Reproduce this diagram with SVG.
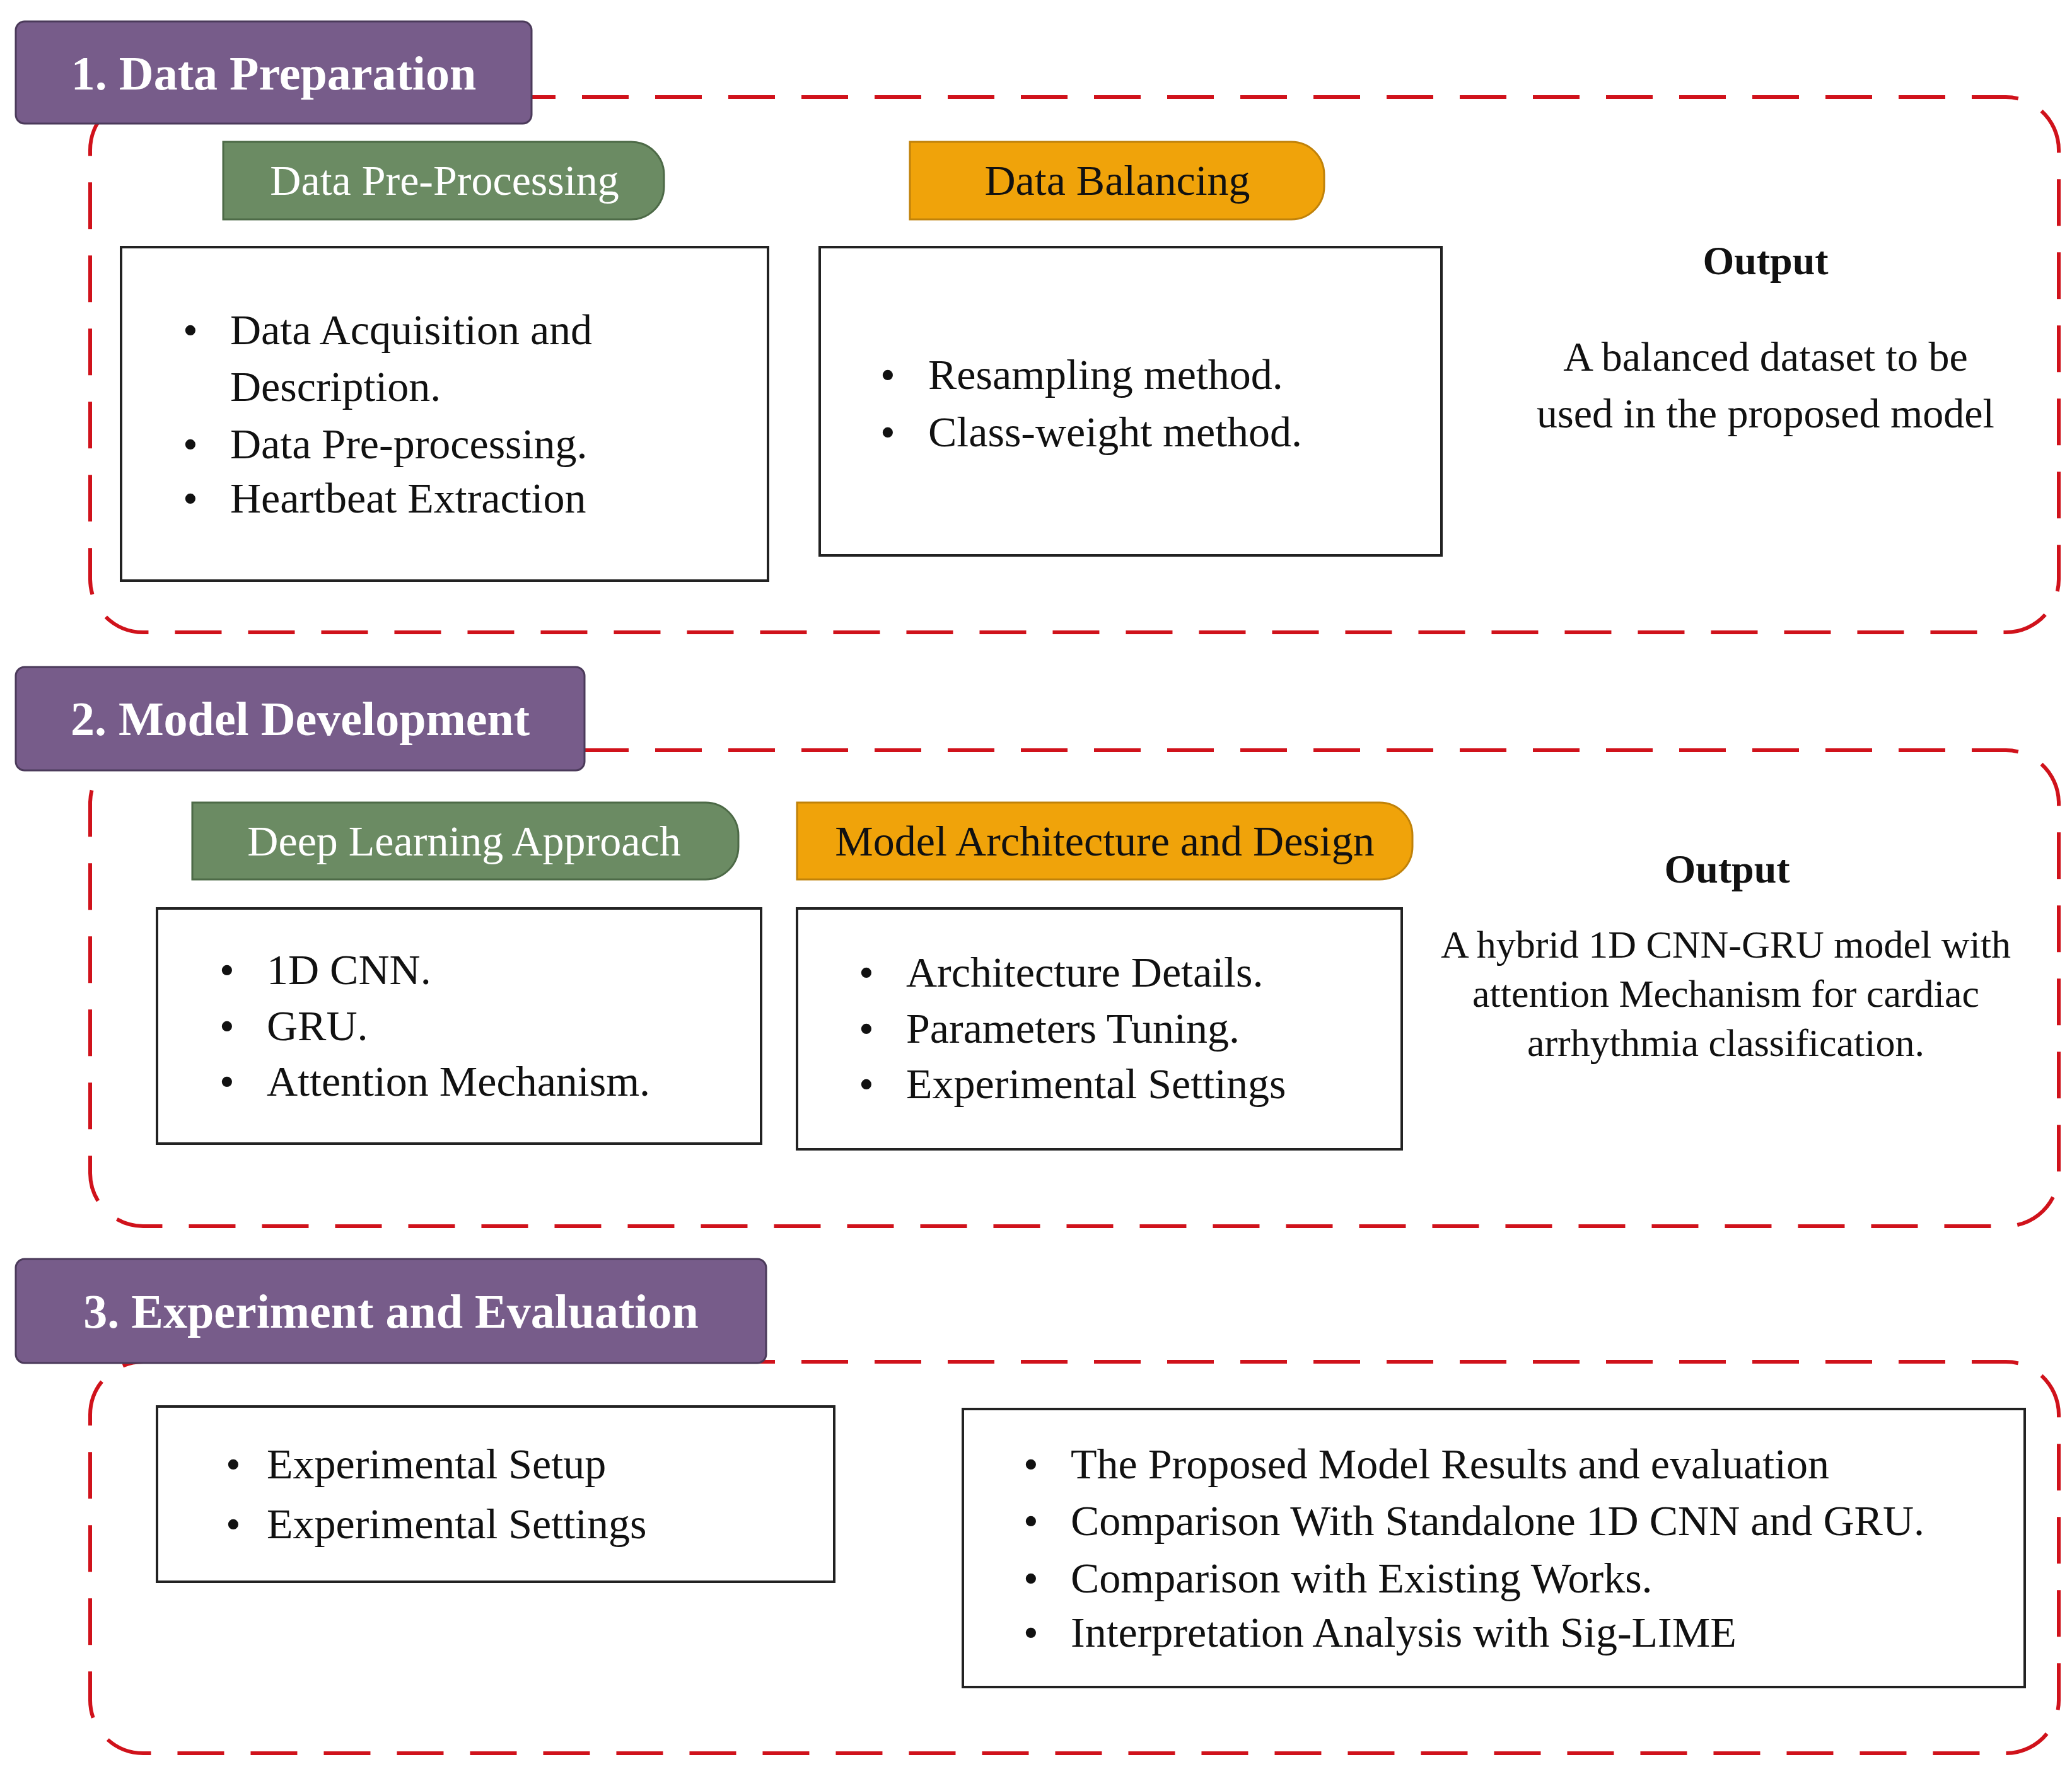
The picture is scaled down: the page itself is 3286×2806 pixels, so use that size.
<svg xmlns="http://www.w3.org/2000/svg" width="3286" height="2806" viewBox="0 0 3286 2806">
<style>
.dash{fill:none;stroke:#d0121b;stroke-width:6;stroke-dasharray:74 42}
.title{fill:#775c8a;stroke:#4b3a5a;stroke-width:3}
.tt{font-family:"Liberation Serif",serif;font-weight:bold;font-size:76px;fill:#fff}
.green{fill:#6b8b63;stroke:#4d6a47;stroke-width:3}
.orange{fill:#f0a30a;stroke:#c0820a;stroke-width:3}
.tab{font-family:"Liberation Serif",serif;font-size:68px}
.box{fill:#fff;stroke:#222;stroke-width:4}
.t{font-family:"Liberation Serif",serif;font-size:68px;fill:#111;dominant-baseline:central}
.o{font-family:"Liberation Serif",serif;font-size:66px;fill:#111;dominant-baseline:central;text-anchor:middle}
.ob{font-family:"Liberation Serif",serif;font-size:64px;font-weight:bold;fill:#111;dominant-baseline:central;text-anchor:middle}
</style>
<rect width="3286" height="2806" fill="#fff"/>
<g id="connectors"/>
<g id="section1">
<rect class="dash" x="143" y="154" width="3122" height="849" rx="84"/>
<rect class="title" x="25" y="34" width="818" height="162" rx="14"/>
<text class="tt" x="434" y="142" text-anchor="middle">1. Data Preparation</text>
<path class="green" d="M354 225H1001A52 52 0 0 1 1053 277V296A52 52 0 0 1 1001 348H354Z"/>
<text class="tab" x="705" y="286" text-anchor="middle" dominant-baseline="central" fill="#fff">Data Pre-Processing</text>
<path class="orange" d="M1443 225H2048A52 52 0 0 1 2100 277V296A52 52 0 0 1 2048 348H1443Z"/>
<text class="tab" x="1772" y="286" text-anchor="middle" dominant-baseline="central" fill="#111">Data Balancing</text>
<rect class="box" x="192" y="392" width="1026" height="529"/>
<text class="t" x="290" y="523">•</text><text class="t" x="365" y="523">Data Acquisition and</text>
<text class="t" x="365" y="613">Description.</text>
<text class="t" x="290" y="704">•</text><text class="t" x="365" y="704">Data Pre-processing.</text>
<text class="t" x="290" y="790">•</text><text class="t" x="365" y="790">Heartbeat Extraction</text>
<rect class="box" x="1300" y="392" width="986" height="489"/>
<text class="t" x="1396" y="594">•</text><text class="t" x="1472" y="594">Resampling method.</text>
<text class="t" x="1396" y="685">•</text><text class="t" x="1472" y="685">Class-weight method.</text>
<text class="ob" x="2800" y="413">Output</text>
<text class="o" x="2800" y="565">A balanced dataset to be</text>
<text class="o" x="2800" y="655">used in the proposed model</text>
</g>
<g id="section2">
<rect class="dash" x="143" y="1190" width="3122" height="755" rx="84"/>
<rect class="title" x="25" y="1058" width="902" height="164" rx="14"/>
<text class="tt" x="476" y="1166" text-anchor="middle">2. Model Development</text>
<path class="green" d="M305 1273H1119A52 52 0 0 1 1171 1325V1343A52 52 0 0 1 1119 1395H305Z"/>
<text class="tab" x="736" y="1334" text-anchor="middle" dominant-baseline="central" fill="#fff">Deep Learning Approach</text>
<path class="orange" d="M1264 1273H2188A52 52 0 0 1 2240 1325V1343A52 52 0 0 1 2188 1395H1264Z"/>
<text class="tab" x="1752" y="1334" text-anchor="middle" dominant-baseline="central" fill="#111">Model Architecture and Design</text>
<rect class="box" x="249" y="1441" width="958" height="373"/>
<text class="t" x="348" y="1538">•</text><text class="t" x="423" y="1538">1D CNN.</text>
<text class="t" x="348" y="1627">•</text><text class="t" x="423" y="1627">GRU.</text>
<text class="t" x="348" y="1715">•</text><text class="t" x="423" y="1715">Attention Mechanism.</text>
<rect class="box" x="1264" y="1441" width="959" height="382"/>
<text class="t" x="1362" y="1542">•</text><text class="t" x="1437" y="1542">Architecture Details.</text>
<text class="t" x="1362" y="1631">•</text><text class="t" x="1437" y="1631">Parameters Tuning.</text>
<text class="t" x="1362" y="1719">•</text><text class="t" x="1437" y="1719">Experimental Settings</text>
<text class="ob" x="2739" y="1378">Output</text>
<text class="o" x="2737" y="1498" style="font-size:62px">A hybrid 1D CNN-GRU model with</text>
<text class="o" x="2737" y="1576" style="font-size:62px">attention Mechanism for cardiac</text>
<text class="o" x="2737" y="1654" style="font-size:62px">arrhythmia classification.</text>
</g>
<g id="section3">
<rect class="dash" x="143" y="2160" width="3122" height="621" rx="84"/>
<rect class="title" x="25" y="1997" width="1190" height="165" rx="14"/>
<text class="tt" x="620" y="2106" text-anchor="middle">3. Experiment and Evaluation</text>
<rect class="box" x="249" y="2231" width="1074" height="278"/>
<text class="t" x="358" y="2322">•</text><text class="t" x="423" y="2322">Experimental Setup</text>
<text class="t" x="358" y="2417">•</text><text class="t" x="423" y="2417">Experimental Settings</text>
<rect class="box" x="1527" y="2235" width="1684" height="441"/>
<text class="t" x="1623" y="2322">•</text><text class="t" x="1698" y="2322">The Proposed Model Results and evaluation</text>
<text class="t" x="1623" y="2412">•</text><text class="t" x="1698" y="2412">Comparison With Standalone 1D CNN and GRU.</text>
<text class="t" x="1623" y="2503">•</text><text class="t" x="1698" y="2503">Comparison with Existing Works.</text>
<text class="t" x="1623" y="2589">•</text><text class="t" x="1698" y="2589">Interpretation Analysis with Sig-LIME</text>
</g>
</svg>
